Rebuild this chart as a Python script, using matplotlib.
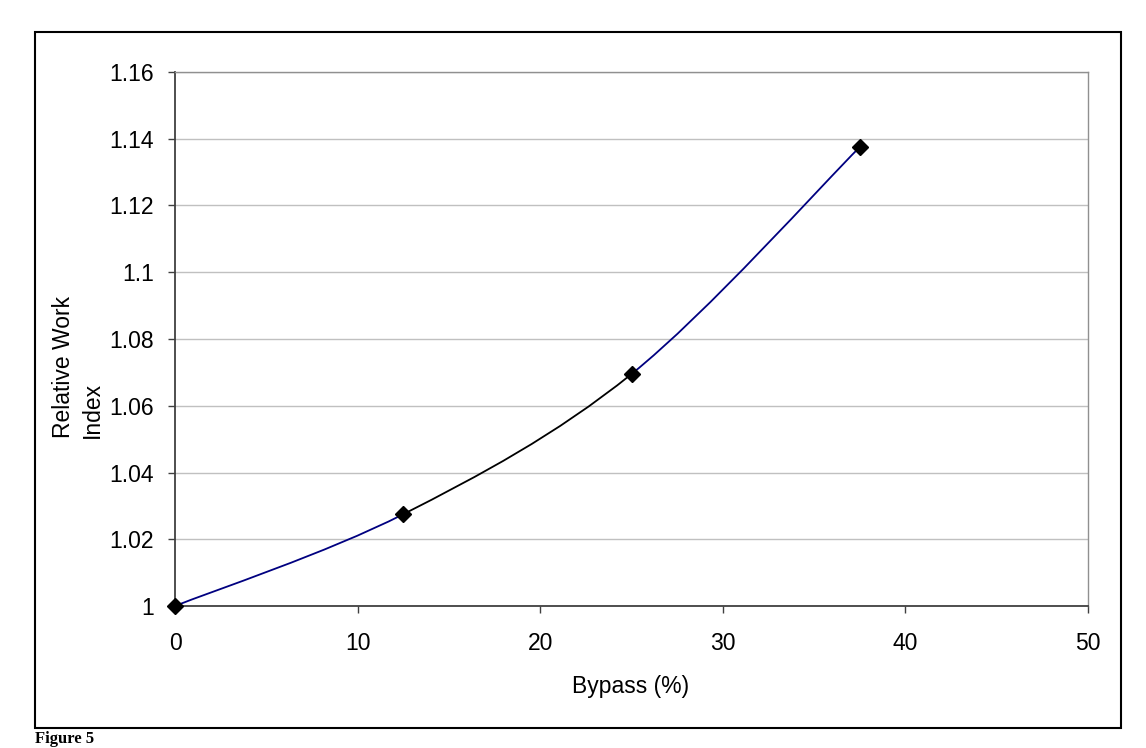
import matplotlib
matplotlib.use("Agg")
import matplotlib.pyplot as plt
from matplotlib.path import Path
from matplotlib.patches import PathPatch, Rectangle
import numpy as np

plt.rcParams['font.family'] = ['Liberation Sans', 'DejaVu Sans']

bypass = [0, 12.5, 25, 37.5]
work_index = [1.0, 1.0275, 1.0695, 1.1375]
x_ticks = [0, 10, 20, 30, 40, 50]
y_ticks = [1, 1.02, 1.04, 1.06, 1.08, 1.1, 1.12, 1.14, 1.16]
y_tick_labels = ["1", "1.02", "1.04", "1.06", "1.08", "1.1", "1.12", "1.14", "1.16"]
seg_colors = ["#000080", "#000000", "#000080"]

W, H = 1146, 748
fig = plt.figure(figsize=(W / 100, H / 100), dpi=100)
ax = fig.add_axes([175 / W, 1 - 606 / H, (1088 - 175) / W, (606 - 72) / H])

# outer border
fig.patches.append(Rectangle((35 / W, 1 - 728 / H), (1121 - 35) / W, (728 - 32) / H,
                             transform=fig.transFigure, fill=False, lw=1.5, ec="black"))

FS = 16.5
ax.set_xlim(0, 50)
ax.set_ylim(1, 1.16)
ax.set_xticks(x_ticks)
ax.set_yticks(y_ticks)
ax.set_yticklabels(y_tick_labels)
ax.grid(axis='y', color="#c0c0c0", lw=1)
ax.set_axisbelow(True)
ax.tick_params(labelsize=FS, length=5, width=1, color="#404040")
ax.tick_params(axis='x', pad=14)
ax.tick_params(axis='y', pad=10)
for s in ["left", "bottom"]:
    ax.spines[s].set_color("#404040")
    ax.spines[s].set_linewidth(1.3)
for s in ["top", "right"]:
    ax.spines[s].set_color("#909090")
    ax.spines[s].set_linewidth(1)

# smoothed curve (Excel-style Bezier), segment by segment
xs = np.array(bypass, dtype=float)
ys = np.array(work_index, dtype=float)
n = len(xs)
for i in range(n - 1):
    p0 = np.array([xs[max(i - 1, 0)], ys[max(i - 1, 0)]])
    p1 = np.array([xs[i], ys[i]])
    p2 = np.array([xs[i + 1], ys[i + 1]])
    p3 = np.array([xs[min(i + 2, n - 1)], ys[min(i + 2, n - 1)]])
    c1 = p1 + (p2 - p0) / 6
    c2 = p2 - (p3 - p1) / 6
    path = Path([p1, c1, c2, p2], [Path.MOVETO, Path.CURVE4, Path.CURVE4, Path.CURVE4])
    ax.add_patch(PathPatch(path, fill=False, ec=seg_colors[i], lw=1.3, clip_on=False))

ax.plot(bypass, work_index, ls="none", marker="D", ms=8.5, color="black", clip_on=False, zorder=5)

# axis titles
fig.text(631 / W, 1 - 686 / H, "Bypass (%)", fontsize=FS, ha="center", va="center")
fig.text(78 / W, 1 - 438 / H, "Relative Work\nIndex", fontsize=FS, rotation=90,
         ha="center", va="bottom", multialignment="left", linespacing=1.3)

fig.text(35 / W, 1 - 747 / H, "Figure 5", fontsize=12, fontweight="bold",
         family=["Liberation Serif", "DejaVu Serif"], ha="left", va="bottom")

fig.savefig("out.png", dpi=100)
